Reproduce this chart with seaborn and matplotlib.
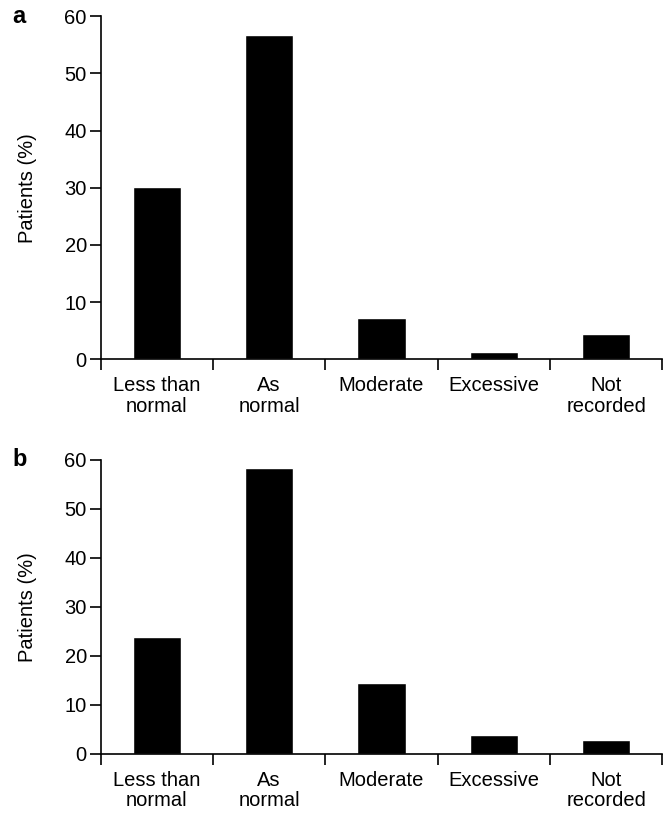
import pandas as pd
import seaborn as sns
import matplotlib.pyplot as plt
from matplotlib.ticker import FixedLocator

# data
categories = ['Less than\nnormal', 'As\nnormal', 'Moderate', 'Excessive', 'Not\nrecorded']
panel_a = [30.1, 56.8, 7.2, 1.3, 4.5]
panel_b = [23.8, 58.3, 14.5, 3.9, 2.8]
y_ticks = [0, 10, 20, 30, 40, 50, 60]

sns.set_style('ticks')
plt.rcParams['font.family'] = ['Liberation Sans', 'DejaVu Sans']
plt.rcParams['text.color'] = 'black'
plt.rcParams['axes.labelcolor'] = 'black'
plt.rcParams['xtick.color'] = 'black'
plt.rcParams['ytick.color'] = 'black'

fig = plt.figure(figsize=(6.67, 8.13), dpi=100)
ax_a = fig.add_axes([0.151, 0.558, 0.842, 0.422])
ax_b = fig.add_axes([0.151, 0.0726, 0.842, 0.3616])


def draw_panel(ax, values, letter):
    df = pd.DataFrame({'category': categories, 'value': values})
    sns.barplot(data=df, x='category', y='value', color='black',
                width=0.43, saturation=1, ax=ax)
    ax.set_xlim(-0.5, len(categories) - 0.5)
    ax.set_ylim(0, 60)
    ax.set_yticks(y_ticks)
    ax.set_xlabel('')
    ax.set_ylabel('Patients (%)', fontsize=14.5, labelpad=20)

    # ticks at category boundaries, labels at centres
    ax.xaxis.set_minor_locator(FixedLocator([i - 0.5 for i in range(len(categories) + 1)]))
    ax.tick_params(axis='x', which='major', length=0, pad=12, labelsize=14.5)
    ax.tick_params(axis='x', which='minor', length=8, width=1.2)
    ax.tick_params(axis='y', length=8, width=1.2, pad=2, labelsize=14.5)
    for lbl in ax.get_xticklabels():
        lbl.set_linespacing(1.1)

    sns.despine(ax=ax)
    for side in ['left', 'bottom']:
        ax.spines[side].set_linewidth(1.2)
        ax.spines[side].set_color('black')

    ax.text(-0.158, 1.0, letter, transform=ax.transAxes, fontsize=17,
            fontweight='bold', ha='left', va='center')


draw_panel(ax_a, panel_a, 'a')
draw_panel(ax_b, panel_b, 'b')

plt.savefig('out.png', dpi=100)
